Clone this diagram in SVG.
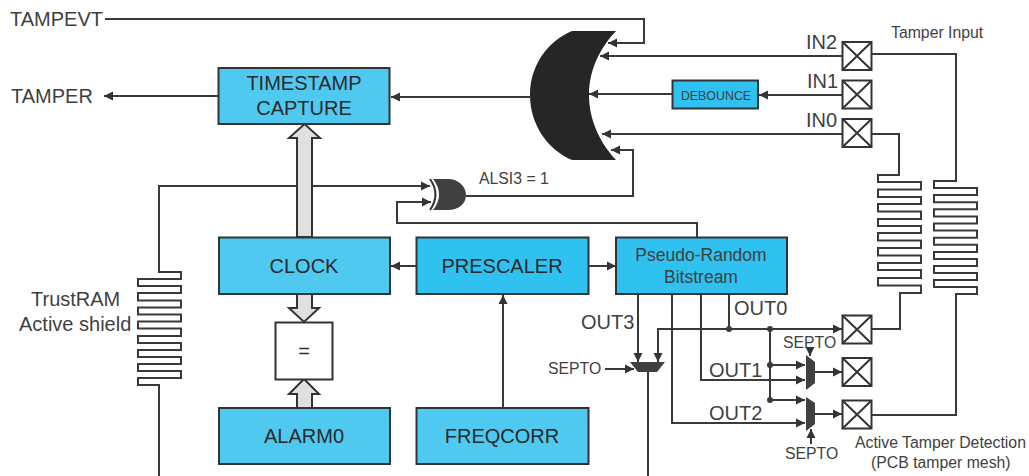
<svg xmlns="http://www.w3.org/2000/svg" width="1029" height="476" viewBox="0 0 1029 476">
<style>
text{font-family:"Liberation Sans",Arial,sans-serif;fill:#3f3f3f}
.l{fill:none;stroke:#3a3a3a;stroke-width:2}
.a{fill:none;stroke:#3a3a3a;stroke-width:2;marker-end:url(#ah)}
.s{fill:none;stroke:#333;stroke-width:2}
.b1{fill:#4fc9f0;stroke:#333;stroke-width:2}
.b2{fill:#2fc1f0;stroke:#333;stroke-width:2}
.p{fill:#fff;stroke:#333;stroke-width:2}
.g{fill:#e0e0e0;stroke:#333;stroke-width:2}
.d{fill:#3a3a3a}
.t18{font-size:20px;text-anchor:middle;fill:#2a2a2a}
.t16{font-size:20px}
.t14{font-size:15.800px}
</style>
<defs>
<marker id="ah" markerUnits="userSpaceOnUse" markerWidth="10" markerHeight="10" refX="9" refY="5" orient="auto"><path d="M0,0.500L9,5L0,9.500Z" fill="#333"/></marker>
<g id="pad"><rect x="0" y="0" width="29" height="28" class="p"/><path d="M0,0L29,28M29,0L0,28" class="s"/></g>
</defs>

<g id="connectors">
<path class="a" d="M105,19H644V43H608"/>
<path class="a" d="M842,56H600"/>
<path class="a" d="M842,95H759"/>
<path class="a" d="M672,94H589"/>
<path class="a" d="M842,134H602"/>
<path class="a" d="M466,196H633V150H611"/>
<path class="a" d="M530,97H391"/>
<path class="a" d="M218,96H104"/>
<path class="a" d="M159,476V385H138V378L181,378V371H138V364H181V357H138V350H181V343H138V336H181V328.500H138V321.500H181V314.500H138V307.500H181V300.500H138V293H181V286H138V279H181V272H159V186H430"/>
<path class="a" d="M697,237V223H397V202H431"/>
<path class="a" d="M416,266H391"/>
<path class="a" d="M589,266H616"/>
<path class="a" d="M503,408V295"/>
<path class="l" d="M871,54H956V181H934V188H977V195H934V202.200H977V209.300H934V216.400H977V223.500H934V230.600H977V237.700H934V244.800H977V252H934V259H977V266H934V273H977V280H934V287H977V294H956V415H872"/>
<path class="l" d="M871,134H899V175H878V182H921V189.500H878V197H921V204H878V211.500H921V219H878V226H921V233H878V240.500H921V248H878V255.500H921V263H878V270H921V278H878V285.500H921V293H900V329H872"/>
<path class="a" d="M638,294V362"/>
<path class="a" d="M729,294V329H658V362"/>
<path class="a" d="M729,329H842"/>
<path class="a" d="M701,294V380H805"/>
<path class="a" d="M672,294V423H805"/>
<path class="l" d="M770,329V400"/>
<path class="a" d="M770,365H805"/>
<path class="a" d="M770,400H805"/>
<path class="a" d="M815,372H842"/>
<path class="a" d="M815,414H842"/>
<path class="a" d="M810,347V356"/>
<path class="a" d="M811,444V429"/>
<path class="a" d="M605,369H634"/>
<path class="l" d="M648,372V476"/>
<circle class="d" cx="729" cy="329" r="3"/>
<circle class="d" cx="770" cy="329" r="3"/>
<circle class="d" cx="770" cy="365" r="3"/>
<circle class="d" cx="770" cy="400" r="3"/>
<path class="g" d="M297,237V138H289L304.500,124L320,138H312V237Z"/>
<path class="g" d="M297,294V308H289L304,322L319,308H312V294Z"/>
<path class="g" d="M297,408V394H289L304,379L319,394H312V408Z"/>
</g>

<g id="or-gate"><path d="M572,31H616C600,48 589,70 589,95C589,120 600,143 616,160H572C548,150 530,125 530,95C530,65 548,41 572,31Z" fill="#262626"/></g>
<g id="xor-gate"><path d="M433,179H448C458,179 466,186 466,195C466,204 458,210 448,210H433C441,200 441,189 433,179Z" fill="#404040"/><path d="M430,179C437,189 437,200 430,210" fill="none" stroke="#333" stroke-width="2"/></g>
<g id="mux0"><path d="M630,362H665L657,372H638Z" fill="#404040"/></g>
<g id="mux1"><path d="M806,355L815,362V383L806,390Z" fill="#404040"/></g>
<g id="mux2"><path d="M806,397L815,403V424L806,431Z" fill="#404040"/></g>

<g id="timestamp"><rect class="b1" x="218.500" y="68" width="171" height="56"/><text class="t18" x="304" y="90">TIMESTAMP</text><text class="t18" x="304" y="114.500">CAPTURE</text></g>
<g id="clock"><rect class="b1" x="219" y="237.500" width="171" height="56.500"/><text class="t18" x="304" y="273">CLOCK</text></g>
<g id="equals"><rect class="p" x="275.500" y="322.500" width="57" height="57"/><text class="t18" x="304" y="358">=</text></g>
<g id="alarm0"><rect class="b1" x="219" y="408" width="171" height="56"/><text class="t18" x="304" y="443">ALARM0</text></g>
<g id="prescaler"><rect class="b2" x="416.500" y="237.500" width="172" height="56.500"/><text class="t18" x="502" y="272.500">PRESCALER</text></g>
<g id="freqcorr"><rect class="b1" x="416.500" y="408" width="172" height="56"/><text class="t18" x="502" y="443">FREQCORR</text></g>
<g id="prbs"><rect class="b2" x="616" y="237.500" width="171" height="56.500"/><text x="701" y="261" text-anchor="middle" font-size="17.500">Pseudo-Random</text><text x="701" y="283" text-anchor="middle" font-size="17.500">Bitstream</text></g>
<g id="debounce"><rect class="b2" x="672.500" y="80.500" width="85.500" height="28"/><text x="716" y="100" text-anchor="middle" font-size="12.400">DEBOUNCE</text></g>

<g id="in2"><use href="#pad" x="842.500" y="42"/></g>
<g id="in1"><use href="#pad" x="842.500" y="80.500"/></g>
<g id="in0"><use href="#pad" x="842.500" y="119"/></g>
<g id="out0"><use href="#pad" x="842.500" y="315.500"/></g>
<g id="out1"><use href="#pad" x="842.500" y="358"/></g>
<g id="out2"><use href="#pad" x="842.500" y="400.500"/></g>

<g id="labels">
<text class="t16" x="10" y="25.500">TAMPEVT</text>
<text class="t16" x="11" y="103">TAMPER</text>
<text class="t16" x="31" y="306">TrustRAM</text>
<text class="t16" x="19" y="331">Active shield</text>
<text class="t14" x="479" y="184">ALSI3 = 1</text>
<text class="t16" x="806" y="49">IN2</text>
<text class="t16" x="807" y="88">IN1</text>
<text class="t16" x="806" y="127">IN0</text>
<text class="t14" x="891" y="38">Tamper Input</text>
<text class="t16" x="581" y="329">OUT3</text>
<text class="t16" x="734" y="315">OUT0</text>
<text class="t16" x="709" y="377">OUT1</text>
<text class="t16" x="709" y="420">OUT2</text>
<text class="t14" x="548" y="374">SEPTO</text>
<text class="t14" x="783" y="348">SEPTO</text>
<text class="t14" x="785" y="459">SEPTO</text>
<text class="t14" x="855" y="448">Active Tamper Detection</text>
<text class="t14" x="871" y="468">(PCB tamper mesh)</text>
</g>
</svg>
